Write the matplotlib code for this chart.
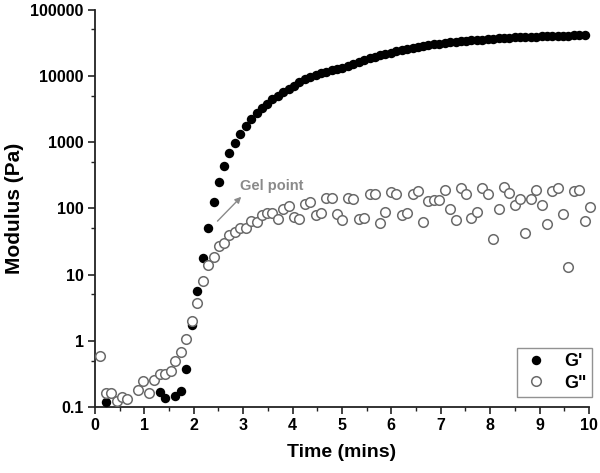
import numpy as np
import matplotlib
matplotlib.use("Agg")
import matplotlib.pyplot as plt
from matplotlib.ticker import FixedLocator, FixedFormatter, MultipleLocator

plt.rcParams['font.family'] = ['Liberation Sans', 'DejaVu Sans']
plt.rcParams['font.weight'] = 'bold'

# sample times (min)
time_min = [0.11, 0.22, 0.33, 0.44, 0.55, 0.65, 0.76, 0.87, 0.98, 1.09,
            1.20, 1.31, 1.42, 1.53, 1.63, 1.74, 1.85, 1.96, 2.07, 2.18,
            2.29, 2.40, 2.51, 2.61, 2.72, 2.83, 2.94, 3.05, 3.16, 3.27,
            3.38, 3.49, 3.59, 3.70, 3.81, 3.92, 4.03, 4.14, 4.25, 4.36,
            4.47, 4.57, 4.68, 4.79, 4.90, 5.01, 5.12, 5.23, 5.34, 5.45,
            5.56, 5.66, 5.77, 5.88, 5.99, 6.10, 6.21, 6.32, 6.43, 6.54,
            6.64, 6.75, 6.86, 6.97, 7.08, 7.19, 7.30, 7.41, 7.52, 7.62,
            7.73, 7.84, 7.95, 8.06, 8.17, 8.28, 8.39, 8.50, 8.60, 8.71,
            8.82, 8.93, 9.04, 9.15, 9.26, 9.37, 9.48, 9.58, 9.69, 9.80,
            9.91, 10.02]

nan = np.nan
# storage modulus G' (Pa)
g_storage = [nan, 0.12, nan, nan, nan, nan, nan, nan, nan, nan,
             nan, 0.17, 0.135, nan, 0.148, 0.177, 0.37, 1.73, 5.6, 18,
             50, 123, 246, 437, 680, 980, 1330, 1730, 2200, 2750,
             3300, 3800, 4400, 5000, 5700, 6400, 7100, 8000, 8800, 9600,
             10200, 10900, 11500, 12100, 12600, 13300, 14200, 15100, 16000, 17000,
             18400, 19300, 20300, 21300, 22300, 23300, 24500, 25700, 26500, 27300,
             28100, 28900, 29700, 30500, 31200, 31800, 32400, 33000, 33600, 34100,
             34700, 35200, 35700, 36200, 36600, 37000, 37400, 37800, 38100, 38500,
             38800, 39100, 39400, 39700, 39900, 40100, 40300, 40500, 40600, 40700,
             40800, nan]

# loss modulus G'' (Pa)
g_loss = [0.59, 0.16, 0.16, 0.125, 0.14, 0.13, nan, 0.18, 0.25, 0.16,
          0.26, 0.32, 0.32, 0.35, 0.50, 0.67, 1.05, 2.0, 3.7, 8,
          14, 18.5, 27, 30, 39, 44, 51, 51, 65, 63,
          78, 84, 84, 68, 96, 109, 74, 69, 115, 126,
          79, 85, 142, 144, 81, 66, 145, 137, 69, 71,
          162, 162, 60, 89, 174, 162, 79, 84, 167, 181,
          62, 129, 132, 132, 191, 96, 66, 205, 167, 71,
          87, 205, 167, 34, 98, 209, 170, 112, 137, 42,
          137, 186, 112, 58, 181, 204, 81, 13, 182, 191,
          64, 105]

y_ticks = [0.1, 1, 10, 100, 1000, 10000, 100000]
y_tick_labels = ['0.1', '1', '10', '100', '1000', '10000', '100000']

fig = plt.figure(figsize=(6.0, 4.73), dpi=100)
ax = fig.add_axes([0.1583, 0.1395, 0.8233, 0.8404])

ax.plot(time_min, g_storage, 'o', color='black', markersize=6.8,
        markeredgewidth=0, label="G'", zorder=3, clip_on=False)
ax.plot(time_min, g_loss, 'o', markerfacecolor='white', markeredgecolor='#6a6a6a',
        markeredgewidth=1.1, markersize=6.9, label='G"', zorder=4, clip_on=False)

ax.set_yscale('log')
ax.set_xlim(0, 10)
ax.set_ylim(0.1, 100000)

ax.yaxis.set_major_locator(FixedLocator(y_ticks))
ax.yaxis.set_major_formatter(FixedFormatter(y_tick_labels))
ax.yaxis.set_minor_locator(FixedLocator([0.5, 5, 50, 500, 5000, 50000]))
ax.xaxis.set_major_locator(MultipleLocator(1))
ax.xaxis.set_minor_locator(MultipleLocator(0.5))

for side in ['top', 'right']:
    ax.spines[side].set_visible(False)
for side in ['left', 'bottom']:
    ax.spines[side].set_linewidth(1.3)
    ax.spines[side].set_color('#222222')

ax.tick_params(which='major', direction='out', length=5, width=1.2, color='#222222',
               labelsize=11.5, pad=3)
ax.tick_params(which='minor', direction='out', length=3, width=1.0, color='#222222')
for lab in ax.get_xticklabels() + ax.get_yticklabels():
    lab.set_fontweight('bold')

ax.set_xlabel('Time (mins)', fontsize=14, fontweight='bold', labelpad=8)
ax.set_ylabel('Modulus (Pa)', fontsize=15, fontweight='bold', labelpad=5)

# gel point annotation
ax.annotate('', xy=(2.96, 149), xytext=(2.48, 64),
            arrowprops=dict(arrowstyle='-|>', color='#8a8a8a', lw=1.0,
                            mutation_scale=9, shrinkA=0, shrinkB=0))
ax.text(2.94, 215, 'Gel point', color='#8a8a8a', fontsize=10.5,
        fontweight='bold', ha='left', va='center')

leg = ax.legend(loc='lower right', bbox_to_anchor=(592 / 600, 1 - 397 / 473),
                bbox_transform=fig.transFigure, frameon=True, fancybox=False,
                fontsize=13, handletextpad=0.8, borderpad=0.3, labelspacing=0.25,
                handlelength=1.5, borderaxespad=0)
leg.get_frame().set_edgecolor('#777777')
leg.get_frame().set_linewidth(1.0)
for t in leg.get_texts():
    t.set_fontweight('bold')

fig.savefig('out.png', dpi=100)
